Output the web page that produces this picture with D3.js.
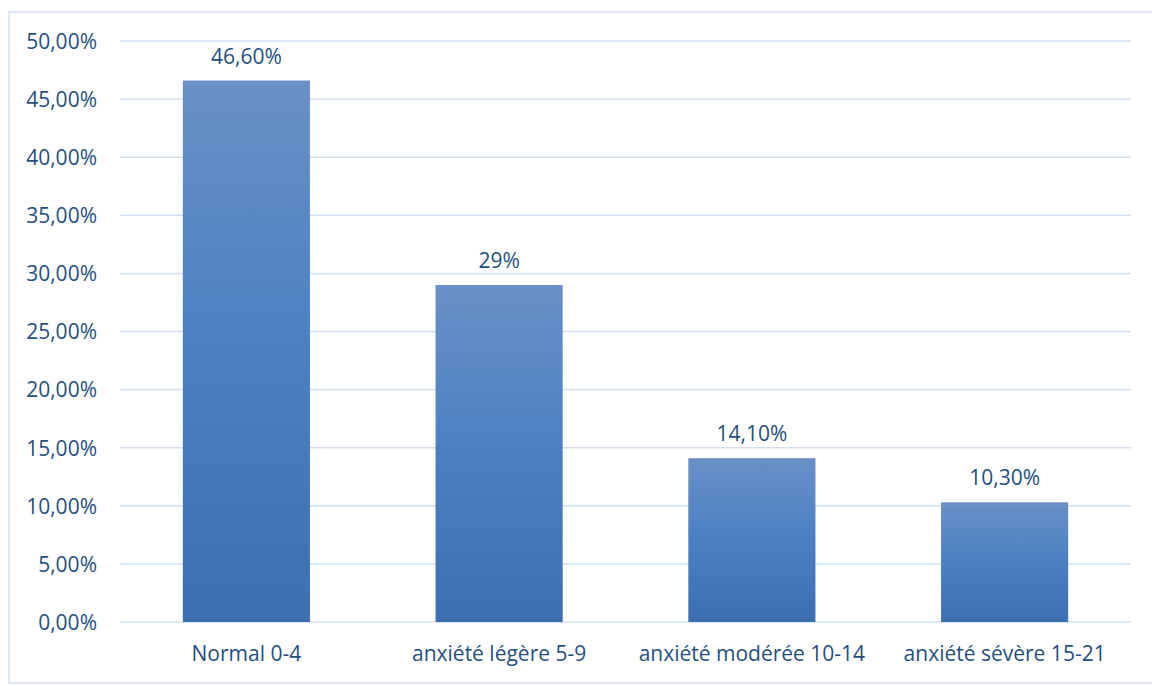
<!DOCTYPE html>
<html>
<head>
<meta charset="utf-8">
<script src="https://cdn.jsdelivr.net/npm/d3@7"></script>
<style>
  html, body { margin: 0; padding: 0; background: #ffffff; }
  svg { display: block; }
  text { font-family: "Open Sans", "Noto Sans", sans-serif; fill: #264f7f; }
</style>
</head>
<body>
<svg id="chart" width="1152" height="686"></svg>
<script>
// Anxiety score categories and their share of respondents (%)
const categories = ["Normal 0-4", "anxiété légère 5-9", "anxiété modérée 10-14", "anxiété sévère 15-21"];
const values = [46.6, 29, 14.1, 10.3];
const valueLabels = ["46,60%", "29%", "14,10%", "10,30%"];
const yTicks = [0, 5, 10, 15, 20, 25, 30, 35, 40, 45, 50];

const svg = d3.select("#chart");
const W = 1152, H = 686;
const plot = { left: 120, right: 1131, top: 41, bottom: 622 };
const fontSize = 21;

// Chart frame
svg.append("rect")
  .attr("x", 9).attr("y", 12)
  .attr("width", W - 9 + 2).attr("height", 683 - 12)
  .attr("fill", "#ffffff")
  .attr("stroke", "#d3def0").attr("stroke-width", 1.5);

const x = d3.scaleBand().domain(categories).range([plot.left, plot.right]).padding(0);
const y = d3.scaleLinear().domain([0, 50]).range([plot.bottom, plot.top]);

// Vertical gradient on the bars: lighter at the top, deeper blue at the base
const defs = svg.append("defs");
const grad = defs.append("linearGradient")
  .attr("id", "barFill").attr("x1", 0).attr("y1", 0).attr("x2", 0).attr("y2", 1);
grad.append("stop").attr("offset", "0%").attr("stop-color", "#6a90c6");
grad.append("stop").attr("offset", "50%").attr("stop-color", "#4a80c3");
grad.append("stop").attr("offset", "100%").attr("stop-color", "#3b6fb0");

// Horizontal gridlines
svg.append("g")
  .selectAll("line")
  .data(yTicks)
  .join("line")
  .attr("x1", plot.left).attr("x2", plot.right)
  .attr("y1", d => y(d)).attr("y2", d => y(d))
  .attr("stroke", "#d3dff1").attr("stroke-width", 1.5);

// Y axis tick labels
const fmtTick = d => d.toFixed(2).replace(".", ",") + "%";
const yAxis = d3.axisLeft(y).tickValues(yTicks).tickFormat(fmtTick).tickSize(0).tickPadding(0);
const yg = svg.append("g").attr("transform", `translate(97,0)`).call(yAxis);
yg.select(".domain").remove();
yg.selectAll("text")
  .attr("font-size", fontSize)
  .attr("fill", "#264f7f")
  .attr("dy", "0.35em");

// Bars, half the band width and centred in each band
const barW = x.bandwidth() * 0.503;
svg.append("g")
  .selectAll("rect")
  .data(values)
  .join("rect")
  .attr("x", (d, i) => x(categories[i]) + (x.bandwidth() - barW) / 2)
  .attr("y", d => y(d))
  .attr("width", barW)
  .attr("height", d => y(0) - y(d))
  .attr("fill", "url(#barFill)");

// Value labels above the bars
svg.append("g")
  .selectAll("text")
  .data(values)
  .join("text")
  .attr("x", (d, i) => x(categories[i]) + x.bandwidth() / 2)
  .attr("y", d => y(d) - 17)
  .attr("text-anchor", "middle")
  .attr("font-size", fontSize)
  .text((d, i) => valueLabels[i]);

// Category labels along the bottom
const xAxis = d3.axisBottom(x).tickSize(0).tickPadding(0);
const xg = svg.append("g").attr("transform", `translate(0,${plot.bottom})`).call(xAxis);
xg.select(".domain").remove();
xg.selectAll("text")
  .attr("font-size", fontSize)
  .attr("fill", "#264f7f")
  .attr("dy", 0)
  .attr("y", 39);
</script>
</body>
</html>
